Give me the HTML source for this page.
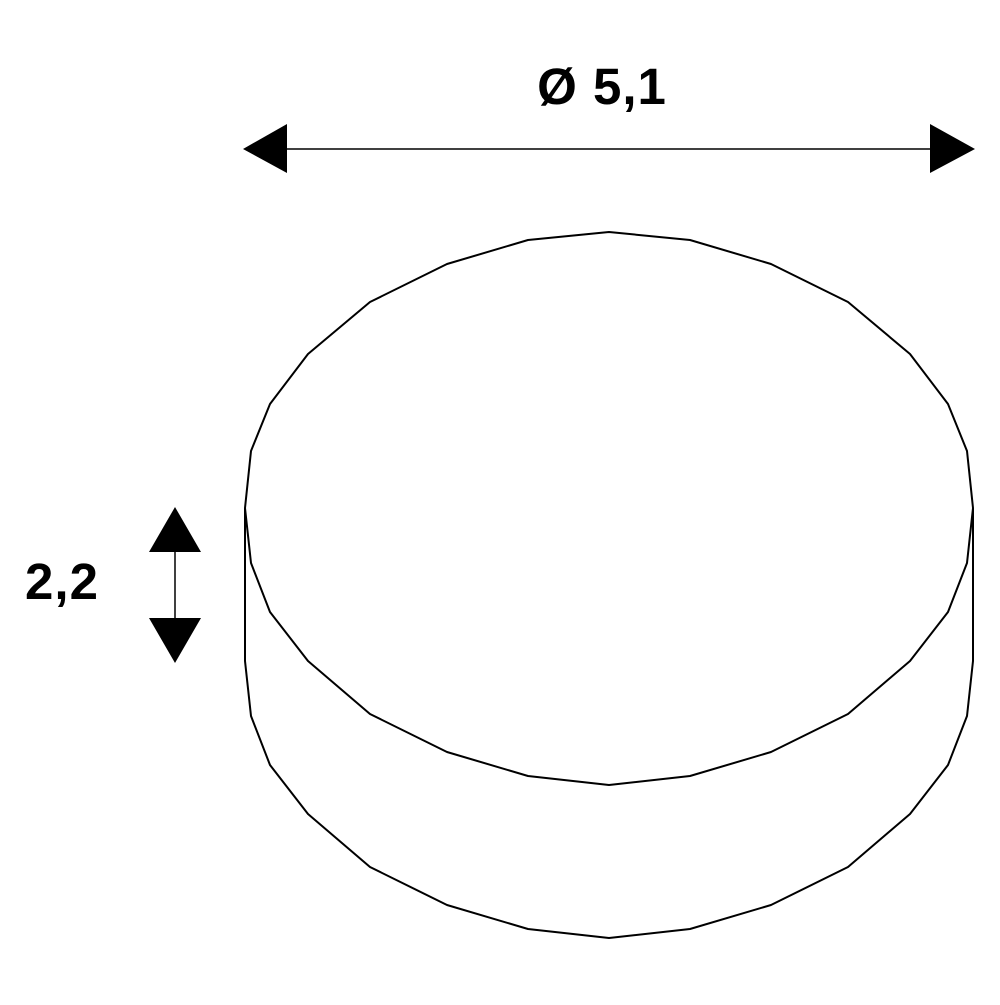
<!DOCTYPE html>
<html><head><style>html,body{margin:0;padding:0;background:#fff}</style></head><body>
<svg width="1000" height="1000" viewBox="0 0 1000 1000" xmlns="http://www.w3.org/2000/svg">
<rect width="1000" height="1000" fill="#fff"/>
<g fill="none" stroke="#000" stroke-width="2" stroke-linejoin="round">
<polygon points="609,232 690,240 771,264 848,302 910,354 948,404 967,451 973,508 967,563 948,612 910,661 848,714 771,752 690,776 609,785 528,776 447,752 370,714 308,661 270,612 251,563 245,508 251,451 270,404 308,354 370,302 447,264 528,240"/>
<polyline points="245,508 245,661 251,716 270,765 308,814 370,867 447,905 528,929 609,938 690,929 771,905 848,867 910,814 948,765 967,716 973,661 973,508"/>
<line x1="280" y1="149" x2="940" y2="149" stroke-width="1.5"/>
<line x1="175" y1="545" x2="175" y2="625" stroke-width="1.5"/>
</g>
<g fill="#000">
<polygon points="243,149 287,124 287,173"/>
<polygon points="975,149 930,124 930,173"/>
<polygon points="175,507 149,552 201,552"/>
<polygon points="175,663 149,618 201,618"/>
</g>
<text x="602" y="104" text-anchor="middle" font-family="Liberation Sans, sans-serif" font-weight="bold" font-size="51" letter-spacing="1">Ø 5,1</text>
<text x="62" y="599" text-anchor="middle" font-family="Liberation Sans, sans-serif" font-weight="bold" font-size="51" letter-spacing="1">2,2</text>
</svg>
</body></html>
